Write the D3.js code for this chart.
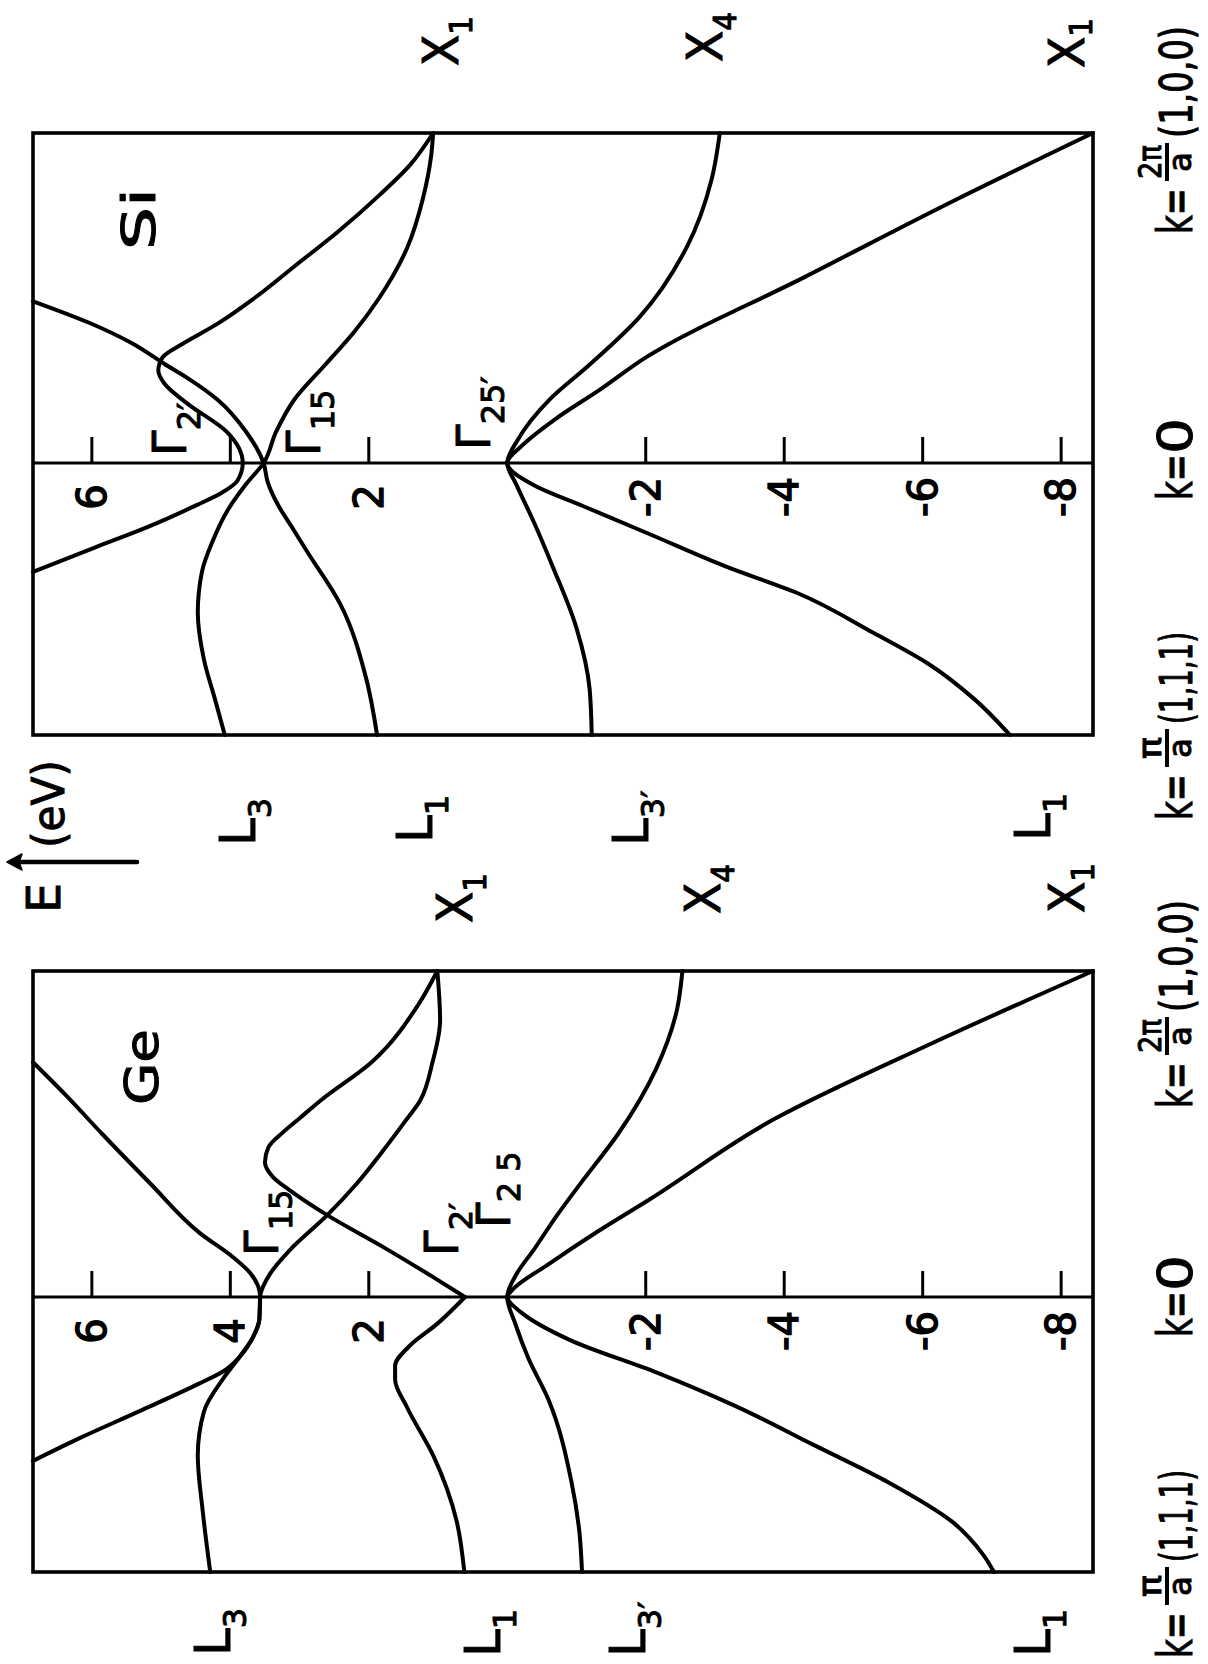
<!DOCTYPE html>
<html>
<head>
<meta charset="utf-8">
<script src="https://cdn.jsdelivr.net/npm/d3@7"></script>
<style>
  html, body { margin: 0; padding: 0; background: #fff; }
  svg { display: block; }
</style>
</head>
<body>
<svg id="chart" width="1208" height="1664"></svg>
<script>
// Energy bands of Si and Ge along L – Γ – X.
// k is the reduced wave vector: -1 = L, π/a(1,1,1); 0 = Γ; +1 = X, 2π/a(1,0,0).
// E is in eV.

const tickEnergies = [6, 4, 2, -2, -4, -6, -8];
const siTickLabels = [6, 2, -2, -4, -6, -8];
const geTickLabels = [6, 4, 2, -2, -4, -6, -8];

// ---- Silicon ----
// valence: L3' – Γ25' – X4
const siVal1K = [-1, -0.832, -0.607, -0.383, -0.215, -0.084, 0, 0.07, 0.19, 0.3, 0.44, 0.657, 0.858, 1];
const siVal1E = [-1.22, -1.19, -1.0, -0.66, -0.38, -0.14, 0, -0.15, -0.6, -1.2, -1.9, -2.6, -2.95, -3.07];
// valence: L1 – Γ25' – X1
const siVal2K = [-1, -0.869, -0.738, -0.626, -0.477, -0.383, -0.262, -0.159, -0.084, 0, 0.054, 0.134, 0.224, 0.317, 0.564, 0.8, 1];
const siVal2E = [-7.26, -6.75, -6.08, -5.3, -4.18, -3.18, -2.06, -1.1, -0.4, 0, -0.22, -0.7, -1.35, -1.98, -4.3, -6.5, -8.46];
// conduction: Γ2' band, leaves the frame on the L side, bends back near X to X1
const siCon2K = [-0.4, -0.31, -0.235, -0.154, -0.11, -0.066, 0, 0.094, 0.18, 0.24, 0.28, 0.32, 0.36, 0.42, 0.5, 0.6, 0.7, 0.811, 0.904, 1];
const siCon2E = [6.85, 5.95, 5.19, 4.48, 4.13, 3.9, 3.82, 4.05, 4.62, 4.95, 5.04, 4.98, 4.7, 4.2, 3.65, 3.05, 2.45, 1.85, 1.4, 1.07];
// conduction: L1 – Γ15 – leaves the frame on the X side
const siCon3K = [-1, -0.79, -0.52, -0.33, -0.24, -0.15, -0.07, 0, 0.094, 0.191, 0.255, 0.3, 0.363, 0.425, 0.49];
const siCon3E = [1.88, 2.04, 2.41, 2.88, 3.1, 3.32, 3.46, 3.52, 3.77, 4.18, 4.6, 4.95, 5.42, 6.04, 6.85];
// conduction: L3 – Γ15 – X1
const siCon1K = [-1, -0.87, -0.724, -0.55, -0.4, -0.29, -0.17, -0.08, 0, 0.094, 0.191, 0.3, 0.4, 0.5, 0.65, 0.8, 0.93, 1];
const siCon1E = [4.08, 4.22, 4.38, 4.47, 4.41, 4.26, 4.03, 3.78, 3.52, 3.34, 3.08, 2.62, 2.2, 1.85, 1.45, 1.22, 1.1, 1.07];

// ---- Germanium ----
// valence: L3' – Γ25' – X4
const geVal1K = [-1, -0.85, -0.676, -0.376, -0.22, -0.1, 0, 0.073, 0.144, 0.245, 0.36, 0.5, 0.7, 0.88, 1];
const geVal1E = [-1.08, -1.04, -0.93, -0.6, -0.3, -0.12, 0, -0.14, -0.38, -0.7, -1.1, -1.6, -2.15, -2.45, -2.53];
// valence: L1 – Γ25' – X1
const geVal2K = [-1, -0.936, -0.816, -0.676, -0.536, -0.396, -0.276, -0.156, -0.056, 0, 0.021, 0.104, 0.2, 0.3, 0.545, 0.773, 1];
const geVal2E = [-7.03, -6.87, -6.42, -5.52, -4.41, -3.29, -2.17, -0.9, -0.2, 0, -0.07, -0.62, -1.3, -2.06, -3.85, -6.08, -8.46];
// conduction: L1 – Γ2' (sharp minimum)
const geCon2LK = [-1, -0.816, -0.576, -0.4, -0.3, -0.25, -0.18, -0.095, 0];
const geCon2LE = [0.62, 0.73, 1.07, 1.45, 1.62, 1.62, 1.42, 1.0, 0.61];
// conduction: Γ2' – hump – X1
const geCon2XK = [0, 0.061, 0.153, 0.251, 0.327, 0.367, 0.413, 0.459, 0.505, 0.55, 0.602, 0.72, 0.895, 1];
const geCon2XE = [0.61, 1.07, 1.79, 2.6, 3.14, 3.38, 3.5, 3.45, 3.24, 2.99, 2.7, 1.96, 1.29, 1.01];
// conduction: L3 – Γ15 – leaves the frame on the X side
const geCon3K = [-1, -0.776, -0.576, -0.416, -0.296, -0.216, -0.145, -0.08, 0, 0.073, 0.122, 0.196, 0.349, 0.5, 0.62, 0.72];
const geCon3E = [4.29, 4.4, 4.47, 4.38, 4.1, 3.86, 3.67, 3.58, 3.57, 3.71, 3.96, 4.44, 5.16, 5.85, 6.38, 6.85];
// conduction: leaves the frame on the L side – Γ15 – X1
const geCon1K = [-0.596, -0.516, -0.416, -0.316, -0.27, -0.216, -0.145, -0.08, 0, 0.073, 0.144, 0.251, 0.349, 0.45, 0.532, 0.602, 0.72, 0.85, 1];
const geCon1E = [6.85, 6.2, 5.32, 4.46, 4.1, 3.86, 3.67, 3.58, 3.57, 3.42, 3.14, 2.6, 2.17, 1.79, 1.5, 1.26, 1.08, 0.97, 1.01];

const siBands = [[siVal1K, siVal1E], [siVal2K, siVal2E], [siCon1K, siCon1E], [siCon2K, siCon2E], [siCon3K, siCon3E]];
const geBands = [[geVal1K, geVal1E], [geVal2K, geVal2E], [geCon2LK, geCon2LE], [geCon2XK, geCon2XE], [geCon3K, geCon3E], [geCon1K, geCon1E]];

// ---- drawing ----
const svg = d3.select("#chart");
const FONT = "'DejaVu Sans', 'Liberation Sans', sans-serif";
const INK = "#000";

const left = 33, right = 1093;
const xE = d3.scaleLinear().domain([6.85, -8.46]).range([left, right]);

const panels = [
  { name: "Si", top: 133, k0: 463, bottom: 735, bands: siBands, labels: siTickLabels },
  { name: "Ge", top: 971, k0: 1297, bottom: 1572, bands: geBands, labels: geTickLabels }
];

// squeeze a text along its writing direction to a given length
function squeeze(t, len) {
  const natural = t.node().getComputedTextLength();
  return natural > 0 ? len / natural : 1;
}

// rotated text, reading bottom-to-top; (x, y) = baseline x, start y
function rotText(parent, x, y, pieces, opts = {}) {
  const t = parent.append("text")
    .attr("transform", `translate(${x},${y}) rotate(-90)`)
    .attr("text-anchor", opts.anchor || "start")
    .style("font-family", FONT)
    .attr("fill", INK)
    .attr("stroke", INK)
    .attr("stroke-width", opts.weight == null ? 1 : opts.weight);
  let dyAcc = 0;
  pieces.forEach(p => {
    const dy = (p.dy || 0) - dyAcc;
    dyAcc = p.dy || 0;
    t.append("tspan")
      .attr("font-size", p.size)
      .attr("dy", dy)
      .attr("dx", p.dx || 0)
      .text(p.t);
  });
  if (opts.len) {
    const s = squeeze(t, opts.len);
    t.attr("transform", `translate(${x},${y}) rotate(-90) scale(${s},1)`);
  }
  return t;
}

panels.forEach(p => {
  const g = svg.append("g");
  const yK = d3.scaleLinear().domain([-1, 0, 1]).range([p.bottom, p.k0, p.top]);

  // bands
  const line = d3.line()
    .x(d => xE(d[1]))
    .y(d => yK(d[0]))
    .curve(d3.curveMonotoneY);
  p.bands.forEach(([ks, es]) => {
    const pts = ks.map((k, i) => [k, es[i]]);
    g.append("path")
      .attr("d", line(pts))
      .attr("fill", "none")
      .attr("stroke", INK)
      .attr("stroke-width", 4)
      .attr("stroke-linecap", "round")
      .attr("stroke-linejoin", "round");
  });

  // frame
  g.append("rect")
    .attr("x", left).attr("y", p.top)
    .attr("width", right - left).attr("height", p.bottom - p.top)
    .attr("fill", "none").attr("stroke", INK).attr("stroke-width", 3.6);

  // Γ line (k = 0)
  g.append("line")
    .attr("x1", left).attr("x2", right)
    .attr("y1", p.k0).attr("y2", p.k0)
    .attr("stroke", INK).attr("stroke-width", 3);

  // energy ticks
  g.selectAll("line.tick").data(tickEnergies).join("line")
    .attr("class", "tick")
    .attr("x1", d => xE(d)).attr("x2", d => xE(d))
    .attr("y1", p.k0).attr("y2", p.k0 - 26)
    .attr("stroke", INK).attr("stroke-width", 3);

  p.labels.forEach(v => {
    rotText(g, xE(v) + 14, p.k0 + 34, [{ t: v < 0 ? "-" + Math.abs(v) : String(v), size: 40 }], { anchor: "middle", weight: 1.4 });
  });
});

// ---- labels ----
const siG = svg.append("g");
const geG = svg.append("g");

rotText(siG, 155, 250, [{ t: "Si", size: 46 }], { len: 62 });
rotText(geG, 158, 1105, [{ t: "Ge", size: 46 }], { len: 76 });

// Γ labels
rotText(siG, 186, 456, [{ t: "Γ", size: 46 }, { t: "2′", size: 32, dy: 14 }]);
rotText(siG, 320, 456, [{ t: "Γ", size: 46 }, { t: "15", size: 32, dy: 14 }]);
rotText(siG, 490, 450, [{ t: "Γ", size: 46 }, { t: "25′", size: 32, dy: 14 }]);
rotText(geG, 278, 1256, [{ t: "Γ", size: 46 }, { t: "15", size: 32, dy: 14 }]);
rotText(geG, 458, 1256, [{ t: "Γ", size: 46 }, { t: "2′", size: 32, dy: 14 }]);
rotText(geG, 510, 1228, [{ t: "Γ", size: 46 }, { t: "2 5", size: 32, dy: 10 }]);

// X-point labels
const xLabelPos = [
  { g: siG, x: 458, y: 66, s: "1", dy: 14 }, { g: siG, x: 722, y: 62, s: "4", dy: 14 }, { g: siG, x: 1084, y: 68, s: "1", dy: 8 },
  { g: geG, x: 472, y: 923, s: "1", dy: 14 }, { g: geG, x: 720, y: 914, s: "4", dy: 14 }, { g: geG, x: 1084, y: 913, s: "1", dy: 10 }
];
xLabelPos.forEach(d => rotText(d.g, d.x, d.y, [{ t: "X", size: 50 }, { t: d.s, size: 32, dy: d.dy }], { len: 50 }));

// L-point labels
const lLabelPos = [
  { g: siG, x: 255, y: 846, s: "3" }, { g: siG, x: 432, y: 843, s: "1" }, { g: siG, x: 648, y: 846, s: "3′" }, { g: siG, x: 1050, y: 841, s: "1" },
  { g: geG, x: 230, y: 1656, s: "3" }, { g: geG, x: 500, y: 1657, s: "1" }, { g: geG, x: 645, y: 1657, s: "3′" }, { g: geG, x: 1050, y: 1657, s: "1" }
];
lLabelPos.forEach(d => rotText(d.g, d.x, d.y, [{ t: "L", size: 50 }, { t: d.s, size: 32, dy: 16 }]));

// energy axis caption: E ↑ (eV)
const axisG = svg.append("g");
rotText(axisG, 60, 913, [{ t: "E", size: 46 }], { len: 30 });
rotText(axisG, 64, 848, [{ t: "(eV)", size: 44 }], { len: 88 });
axisG.append("line")
  .attr("x1", 137).attr("x2", 14).attr("y1", 862).attr("y2", 862)
  .attr("stroke", INK).attr("stroke-width", 4.5).attr("stroke-linecap", "round");
axisG.append("path")
  .attr("d", "M7,862 L22,854 L19,862 L22,870 Z")
  .attr("fill", INK).attr("stroke", INK).attr("stroke-width", 1.5).attr("stroke-linejoin", "round");

// k-point captions on the right
function kLabel(startY, num, parens, totalLen) {
  const g = svg.append("g").attr("transform", `translate(1192,${startY}) rotate(-90)`);
  const put = (u, v, txt, size, len, anchor) => {
    const t = g.append("text")
      .attr("text-anchor", anchor || "start")
      .style("font-family", FONT).attr("font-size", size)
      .attr("fill", INK).attr("stroke", INK).attr("stroke-width", 1).text(txt);
    const s = len ? squeeze(t, len) : 1;
    t.attr("transform", `translate(${u},${v}) scale(${s},1)`);
    return t;
  };
  put(0, 0, "k=", 48, 46);
  if (num) {
    const uc = 72;
    put(uc, -31, num, 32, num.length > 1 ? 34 : 22, "middle");
    g.append("line").attr("x1", uc - 19).attr("x2", uc + 19).attr("y1", -25).attr("y2", -25)
      .attr("stroke", INK).attr("stroke-width", 4);
    put(uc, -1, "a", 32, 20, "middle");
    put(96, 0, parens, 44, totalLen);
  } else {
    put(46, 0, parens, 48, 36);
  }
}
kLabel(234, "2π", "(1,0,0)", 112);
kLabel(500, null, "0");
kLabel(820, "π", "(1,1,1)", 92);
kLabel(1108, "2π", "(1,0,0)", 112);
kLabel(1337, null, "0");
kLabel(1658, "π", "(1,1,1)", 92);
</script>
</body>
</html>
